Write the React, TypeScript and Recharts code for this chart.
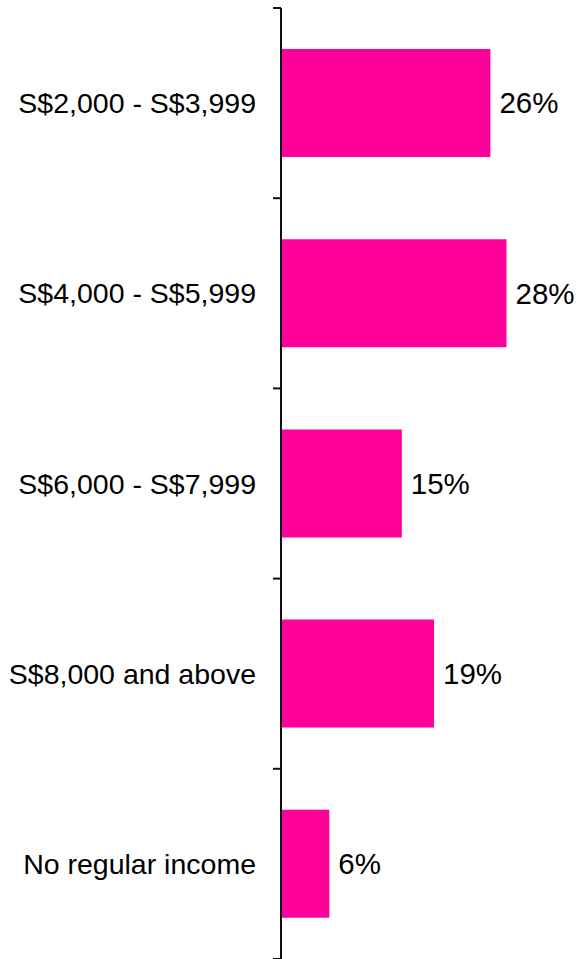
import { BarChart, Bar, XAxis, YAxis, LabelList } from "recharts";

const categories = [
  "S$2,000 - S$3,999",
  "S$4,000 - S$5,999",
  "S$6,000 - S$7,999",
  "S$8,000 and above",
  "No regular income",
];
const shares = [26, 28, 15, 19, 6];

const data = categories.map((name, i) => ({ name, share: shares[i] }));

const font = "Liberation Sans, Arial, sans-serif";
const TICK_LEN = 8;
const TICK_GAP = 17;

// label plus a tick mark on the band's upper edge (and lower edge for the last band)
function CategoryTick(props: any) {
  const { x, y, payload, index } = props;
  const half = payload?.offset ?? 95;
  const x1 = x + TICK_GAP;
  const x2 = x1 + TICK_LEN;
  return (
    <g>
      <text
        x={x}
        y={y}
        dy="0.355em"
        textAnchor="end"
        fontSize={28.5}
        fill="#000"
        fontFamily={font}
      >
        {payload.value}
      </text>
      <line x1={x1} x2={x2} y1={y - half} y2={y - half} stroke="#111" strokeWidth={2} />
      {index === categories.length - 1 && (
        <line x1={x1} x2={x2} y1={y + half} y2={y + half} stroke="#111" strokeWidth={2} />
      )}
    </g>
  );
}

export default function App() {
  return (
    <div style={{ position: "absolute", left: 0, top: 0, background: "#fff" }}>
      <BarChart
        width={579}
        height={959}
        data={data}
        layout="vertical"
        margin={{ top: 8, right: 0, bottom: 0, left: 0 }}
      >
        <XAxis type="number" domain={[0, 37]} hide />
        <YAxis
          type="category"
          dataKey="name"
          width={281}
          axisLine={{ stroke: "#111", strokeWidth: 2 }}
          tickLine={false}
          tickSize={TICK_LEN}
          tickMargin={TICK_GAP}
          interval={0}
          tick={CategoryTick}
        />
        <Bar dataKey="share" fill="#FF0099" barSize={108} isAnimationActive={false}>
          <LabelList
            dataKey="share"
            position="right"
            offset={9}
            formatter={(v: number) => `${v}%`}
            style={{ fontSize: 29.5, fill: "#000", fontFamily: font }}
          />
        </Bar>
      </BarChart>
    </div>
  );
}
